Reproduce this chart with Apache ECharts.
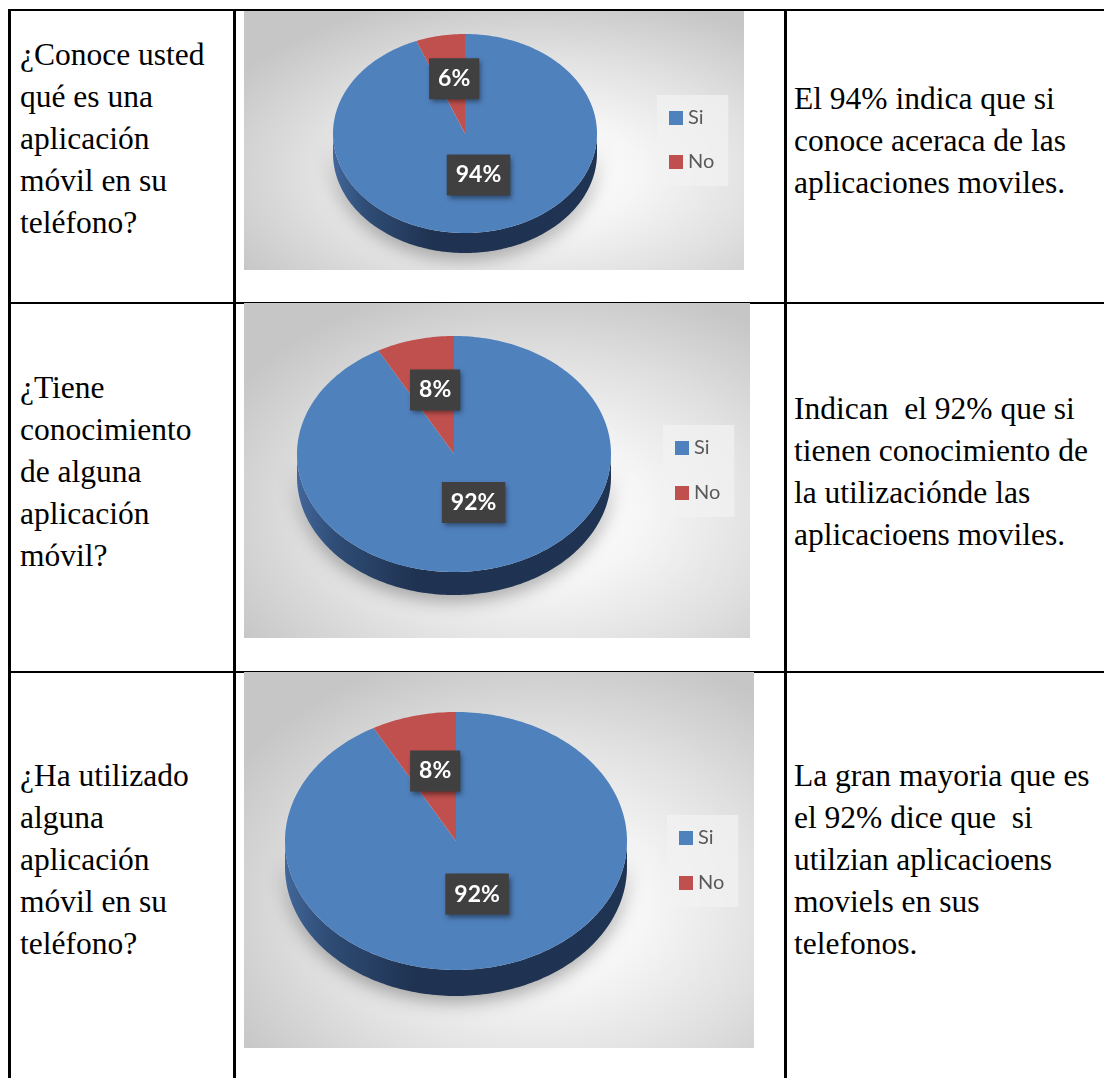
<!DOCTYPE html>
<html>
<head>
<meta charset="utf-8">
<script src="https://cdn.jsdelivr.net/npm/echarts@6.0.0/dist/echarts.min.js"></script>
<style>
  html, body { margin: 0; padding: 0; background: #fff; }
  body { width: 1104px; height: 1078px; overflow: hidden; position: relative; }
  .line { position: absolute; background: #000; }
  .txt {
    position: absolute;
    font-size: 31.5px;
    line-height: 42px;
    white-space: pre;
    color: #000;
  }
  .chart {
    position: absolute;
    left: 244px;
    background: radial-gradient(ellipse 70% 70% at 58% 62%, #ffffff 0%, #f6f6f6 30%, #e0e0e0 65%, #c6c6c6 100%);
  }
</style>
</head>
<body>
  <!-- table rules -->
  <div class="line" style="left:8px; top:9px; width:1100px; height:2px;"></div>
  <div class="line" style="left:8px; top:302px; width:1100px; height:2px;"></div>
  <div class="line" style="left:8px; top:671px; width:1100px; height:2px;"></div>
  <div class="line" style="left:8px; top:9px; width:3px; height:1080px;"></div>
  <div class="line" style="left:233px; top:9px; width:3px; height:1080px;"></div>
  <div class="line" style="left:784px; top:9px; width:3px; height:1080px;"></div>

  <!-- row 1 -->
  <div class="txt" style="font-family:'Liberation Serif'; left:20px; top:34px;">¿Conoce usted<br>qué es una<br>aplicación<br>móvil en su<br>teléfono?</div>
  <div class="chart" id="chart1" style="top:11px; width:500px; height:259px;"></div>
  <div class="txt" style="font-family:'Liberation Serif'; left:794px; top:78px;">El 94% indica que si<br>conoce aceraca de las<br>aplicaciones moviles.</div>

  <!-- row 2 -->
  <div class="txt" style="font-family:'Liberation Serif'; left:20px; top:367px;">¿Tiene<br>conocimiento<br>de alguna<br>aplicación<br>móvil?</div>
  <div class="chart" id="chart2" style="top:303px; width:506px; height:335px;"></div>
  <div class="txt" style="font-family:'Liberation Serif'; left:794px; top:388px;">Indican  el 92% que si<br>tienen conocimiento de<br>la utilizaciónde las<br>aplicacioens moviles.</div>

  <!-- row 3 -->
  <div class="txt" style="font-family:'Liberation Serif'; left:20px; top:755px;">¿Ha utilizado<br>alguna<br>aplicación<br>móvil en su<br>teléfono?</div>
  <div class="chart" id="chart3" style="top:672px; width:510px; height:376px;"></div>
  <div class="txt" style="font-family:'Liberation Serif'; left:794px; top:755px;">La gran mayoria que es<br>el 92% dice que  si<br>utilzian aplicacioens<br>moviels en sus<br>telefonos.</div>

<script>
// data
const categories = ['Si', 'No'];
const conoceValues = [94, 6];
const conocimientoValues = [92, 8];
const utilizadoValues = [92, 8];

const sliceColors = ['#4F81BD', '#C0504D'];
const sideStops = [
    [{ offset: 0, color: '#42679A' }, { offset: 0.12, color: '#2F4D76' }, { offset: 0.38, color: '#1F3251' }, { offset: 1, color: '#1F3352' }],
    [{ offset: 0, color: '#8A3634' }, { offset: 1, color: '#6E2826' }]
];
const sansFont = 'Lato, "Open Sans", "Noto Sans", sans-serif';

// layout of each picture (px inside its own box)
const layouts = [
    { id: 'chart1', values: conoceValues, cx: 221, cy: 122.5, rx: 132, ry: 99.5, depth: 20, legendLeft: 413, legendTop: 84, gap: 22 },
    { id: 'chart2', values: conocimientoValues, cx: 210, cy: 151, rx: 157, ry: 118, depth: 23, legendLeft: 419, legendTop: 122, gap: 23 },
    { id: 'chart3', values: utilizadoValues, cx: 212, cy: 169, rx: 171, ry: 129, depth: 26, legendLeft: 423, legendTop: 143, gap: 23 }
];

function arc(g, a0, a1, dy) {
    const pts = [];
    const n = Math.max(2, Math.ceil((a1 - a0) / 0.02));
    for (let k = 0; k <= n; k++) {
        const a = a0 + (a1 - a0) * k / n;
        pts.push([g.cx + g.rx * Math.sin(a), g.cy - g.ry * Math.cos(a) + dy]);
    }
    return pts;
}

function buildSeries(g) {
    const values = g.values;
    const total = values.reduce((a, b) => a + b, 0);
    return categories.map((name, i) => ({
        name: name,
        type: 'custom',
        coordinateSystem: 'none',
        silent: true,
        itemStyle: { color: sliceColors[i] },
        data: [values[i]],
        renderItem: (params, api) => {
            const v = api.value(0);
            const before = values.slice(0, i).reduce((a, b) => a + b, 0);
            const a0 = before / total * Math.PI * 2;
            const a1 = (before + v) / total * Math.PI * 2;
            const children = [];

            // visible front wall
            const lo = Math.max(a0, Math.PI / 2);
            const hi = Math.min(a1, Math.PI * 1.5);
            if (lo < hi) {
                const side = arc(g, lo, hi, 0).concat(arc(g, lo, hi, g.depth).reverse());
                children.push({
                    type: 'polygon',
                    z2: 1,
                    shape: { points: side },
                    style: {
                        fill: new echarts.graphic.LinearGradient(0, 0, 1, 0, sideStops[i]),
                        shadowBlur: 18,
                        shadowColor: 'rgba(0,0,0,0.32)',
                        shadowOffsetY: 6
                    }
                });
            }

            // top face
            children.push({
                type: 'polygon',
                z2: 5,
                shape: { points: [[g.cx, g.cy]].concat(arc(g, a0, a1, 0)) },
                style: { fill: sliceColors[i] }
            });

            // percentage label
            const mid = (a0 + a1) / 2;
            const f = v / total > 0.5 ? 0.425 : 0.56;
            children.push({
                type: 'text',
                z2: 10,
                style: {
                    x: g.cx + g.rx * Math.sin(mid) * f + 3,
                    y: g.cy - g.ry * Math.cos(mid) * f,
                    text: Math.round(v / total * 100) + '%',
                    align: 'center',
                    verticalAlign: 'middle',
                    fill: '#ffffff',
                    fontSize: 23,
                    fontWeight: 'bold',
                    fontFamily: sansFont,
                    lineHeight: 23,
                    backgroundColor: '#404040',
                    padding: [9, 9],
                    shadowBlur: 5,
                    shadowColor: 'rgba(0,0,0,0.45)',
                    shadowOffsetX: 2,
                    shadowOffsetY: 3
                }
            });
            return { type: 'group', children: children };
        }
    }));
}

layouts.forEach(g => {
    const chart = echarts.init(document.getElementById(g.id));
    chart.setOption({
        animation: false,
        backgroundColor: 'transparent',
        legend: {
            orient: 'vertical',
            left: g.legendLeft,
            top: g.legendTop,
            data: categories,
            icon: 'rect',
            itemWidth: 14,
            itemHeight: 14,
            itemGap: g.gap,
            padding: [12, 14, 13, 12],
            backgroundColor: 'rgba(242,242,242,0.75)',
            selectedMode: false,
            textStyle: { fontFamily: sansFont, fontSize: 20, color: '#595959', lineHeight: 22 }
        },
        series: buildSeries(g)
    });
});
</script>
</body>
</html>
